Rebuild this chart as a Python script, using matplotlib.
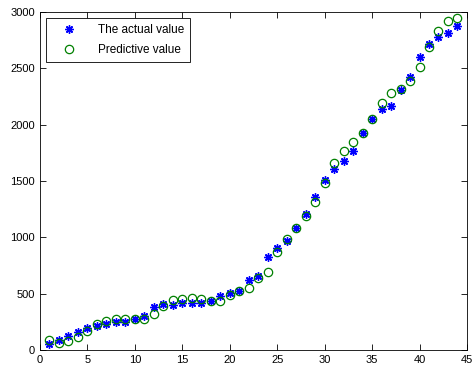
import numpy as np
import matplotlib
matplotlib.use('Agg')
import matplotlib.pyplot as plt

plt.rcParams['font.family'] = ['Liberation Sans', 'DejaVu Sans']

# sample index
x = np.arange(1, 45)

actual = [50, 89, 124, 163, 198, 213, 231, 246, 246, 272,
          305, 379, 408, 399, 420, 414, 414, 435, 482, 509,
          527, 621, 657, 828, 908, 972, 1080, 1204, 1355, 1509,
          1604, 1678, 1766, 1923, 2050, 2142, 2167, 2308, 2420, 2604,
          2713, 2781, 2811, 2878]

predicted = [85, 65, 83, 118, 169, 231, 257, 272, 275, 275,
             272, 320, 393, 444, 452, 459, 450, 435, 438, 488,
             524, 547, 636, 695, 866, 988, 1080, 1192, 1311, 1479,
             1657, 1766, 1843, 1923, 2050, 2192, 2281, 2314, 2390, 2515,
             2692, 2831, 2920, 2944]

fig = plt.figure(figsize=(4.76, 3.68), dpi=100)
ax = fig.add_axes([0.084, 0.049, 0.897, 0.918])

ax.plot(x, actual, linestyle='none', marker=(8, 2, 0), markersize=6,
        markeredgewidth=1.0, color='#0000ff', label='The actual value')
ax.plot(x, predicted, linestyle='none', marker='o', markersize=6,
        markerfacecolor='none', markeredgewidth=0.9, color='#008000',
        label='Predictive value')

ax.set_xlim(0, 45)
ax.set_ylim(0, 3000)
ax.set_xticks(range(0, 46, 5))
ax.set_yticks(range(0, 3001, 500))
ax.tick_params(direction='in', top=True, right=True, labelsize=8, length=4, width=0.6)
for s in ax.spines.values():
    s.set_linewidth(0.6)

leg = ax.legend(loc='upper left', fontsize=8.5, fancybox=False, edgecolor='black',
                framealpha=1, borderaxespad=0.5, borderpad=0.5, labelspacing=0.7,
                handletextpad=0.9, handlelength=3.0)
leg.get_frame().set_linewidth(0.6)

fig.savefig('out.png', dpi=100)
plt.close()
